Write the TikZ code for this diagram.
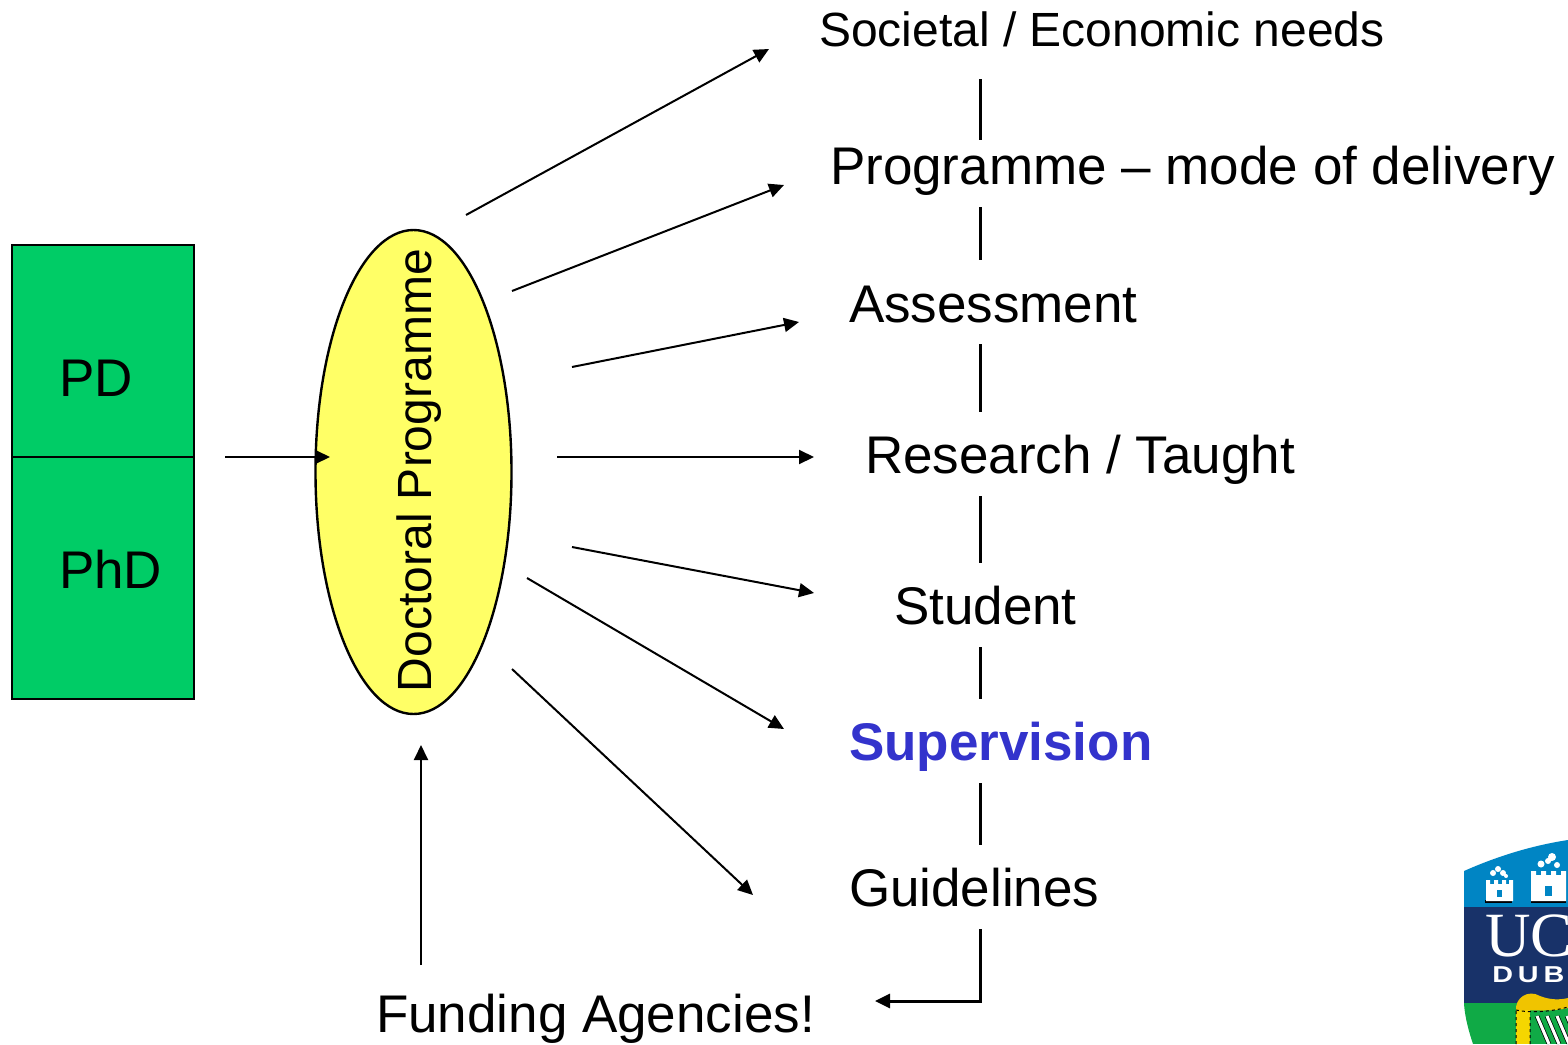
\documentclass[tikz,border=0pt]{standalone}
\usepackage{fontspec}
\setmainfont{Liberation Sans}
\newfontfamily\shieldserif{Liberation Serif}[Scale=1]
\newfontfamily\shieldsans{Liberation Sans}[LetterSpace=17]
\usetikzlibrary{arrows.meta,shapes.geometric}
\definecolor{boxgreen}{RGB}{0,204,102}
\definecolor{ellyellow}{RGB}{255,255,102}
\definecolor{supblue}{RGB}{51,51,204}
\definecolor{shieldblue}{RGB}{0,133,196}
\definecolor{shieldnavy}{RGB}{24,50,105}
\definecolor{shieldgreen}{RGB}{16,170,70}
\definecolor{harpgold}{RGB}{240,196,0}
\tikzset{
  x=1pt,y=-1pt,
  lbl/.style={anchor=base west,inner sep=0pt,outer sep=0pt,font=\fontsize{53}{53}\selectfont},
  lblsm/.style={lbl,font=\fontsize{48}{48}\selectfont},
  arr/.style={draw=black,line width=2pt,-{Triangle[length=15pt,width=14pt]}},
  tick/.style={draw=black,line width=3pt},
  cell/.style={draw=black,line width=2.4pt,fill=boxgreen},
  ell/.style={draw=black,line width=2.4pt,fill=ellyellow,ellipse,minimum width=196pt,minimum height=484pt,inner sep=0pt,outer sep=0pt},
}
\begin{document}
\begin{tikzpicture}
\useasboundingbox (0,0) rectangle (1568,1044);
% green boxes
\draw[cell] (12,245) rectangle (194,457);
\draw[cell] (12,457) rectangle (194,699);
\node[lbl] (pd) at (59,396) {PD};
\node[lbl] (phd) at (59,588) {PhD};
% ellipse
\node[ell] (oval) at (413.5,472) {};
\node[lblsm,rotate=90] (doc) at (431,692) {Doctoral Programme};
% labels
\node[lblsm] (soc) at (819,46) {Societal / Economic needs};
\node[lbl] (prog) at (830,184) {Programme – mode of delivery};
\node[lbl] (ass) at (849,322) {Assessment};
\node[lbl] (res) at (865,473) {Research / Taught};
\node[lbl] (stu) at (894,624) {Student};
\node[lbl,text=supblue,font=\fontsize{53}{53}\selectfont\bfseries] (sup) at (849,760) {Supervision};
\node[lbl] (gui) at (849,906) {Guidelines};
\node[lbl] (fund) at (376,1032) {Funding Agencies!};
% arrows
\foreach \n/\a/\b/\c/\d in {f1/466/215/769/49,f2/512/291/784/185,f3/572/367/799/322,f4/557/457/814/457,f5/572/547/814/593,f6/527/578/784/729,f7/512/669/753/895,f8/225/457/330/457,f9/421/965/421/745}{
  \coordinate (\n a) at (\a,\b);
  \coordinate (\n b) at (\c,\d);
  \draw[arr] (\n a) -- (\n b);
}
% ticks
\foreach \n/\a/\b in {t1/79/140,t2/207/260,t3/344/412,t4/496/563,t5/647/699,t6/783/845}{
  \coordinate (\n a) at (980,\a);
  \coordinate (\n b) at (980,\b);
  \draw[tick] (\n a) -- (\n b);
}
\coordinate (ga) at (980,929);
\coordinate (gc) at (980,1001);
\coordinate (gb) at (875,1001);
\draw[tick,-{Triangle[length=15pt,width=14pt]}] (ga) -- (gc) -- (gb);
% logo
\begin{scope}
\clip (1464,871) .. controls (1500,855) and (1535,845) .. (1568,840) -- (1568,1044) -- (1473,1044) .. controls (1469,1032) and (1465,1018) .. (1464,1004) -- cycle;
\fill[shieldblue] (1464,835) rectangle (1568,907);
\fill[shieldnavy] (1464,907) rectangle (1568,1003);
\fill[shieldgreen] (1464,1003) rectangle (1568,1044);
% left tower
\fill[black] (1485,900) rectangle (1512,903);
\fill[white] (1486,901) -- (1486,880) -- (1490,880) -- (1490,884) -- (1494,884) -- (1494,880) -- (1498,880) -- (1498,884) -- (1502,884) -- (1502,880) -- (1506,880) -- (1506,884) -- (1509,884) -- (1509,880) -- (1513,880) -- (1513,901) -- cycle;
\fill[shieldblue] (1497,890) rectangle (1502,897);
\fill[white] (1493,873) circle (3) (1498,869) circle (3) (1503,873) circle (3) (1506,876) circle (2);
% right tower
\fill[black] (1531,900) rectangle (1566,903);
\fill[white] (1531,901) -- (1531,871) -- (1536,871) -- (1536,875) -- (1541,875) -- (1541,871) -- (1546,871) -- (1546,875) -- (1551,875) -- (1551,871) -- (1556,871) -- (1556,875) -- (1561,875) -- (1561,871) -- (1566,871) -- (1566,901) -- cycle;
\fill[shieldblue] (1545,886) rectangle (1552,896);
\fill[white] (1541,864) circle (3.5) (1548,861) circle (3) (1552,857) circle (4) (1557,865) circle (3);
% lettering
\node[anchor=base west,inner sep=0pt,text=white,font=\fontsize{63}{63}\shieldserif] (uc) at (1485,956) {UC};
\node[anchor=base west,inner sep=0pt,text=white,xscale=1.25,font=\fontsize{23}{23}\shieldsans\bfseries] (dub) at (1492,982) {DUB};
% harp
\fill[harpgold!70!yellow] (1516,1044) -- (1516,1010) -- (1530,1010) -- (1530,1044) -- cycle;
\fill[harpgold] (1516,1010) .. controls (1515,998) and (1528,989) .. (1540,996) .. controls (1550,1000) and (1560,1000) .. (1568,998) -- (1568,1008) .. controls (1550,1012) and (1535,1010) .. (1516,1010) -- cycle;
\draw[black,line width=1pt,dashed] (1516,1044) -- (1516,1010) (1530,1044) -- (1530,1014) (1516,1010) .. controls (1530,1013) and (1550,1012) .. (1568,1007);
\foreach \k in {0,1,2,3}{
  \draw[black,line width=4.5pt] ({1537+10*\k},1016) -- ({1549+10*\k},1044);
  \draw[white,line width=3pt] ({1537+10*\k},1016) -- ({1549+10*\k},1044);
}
\end{scope}
\end{tikzpicture}
\end{document}
